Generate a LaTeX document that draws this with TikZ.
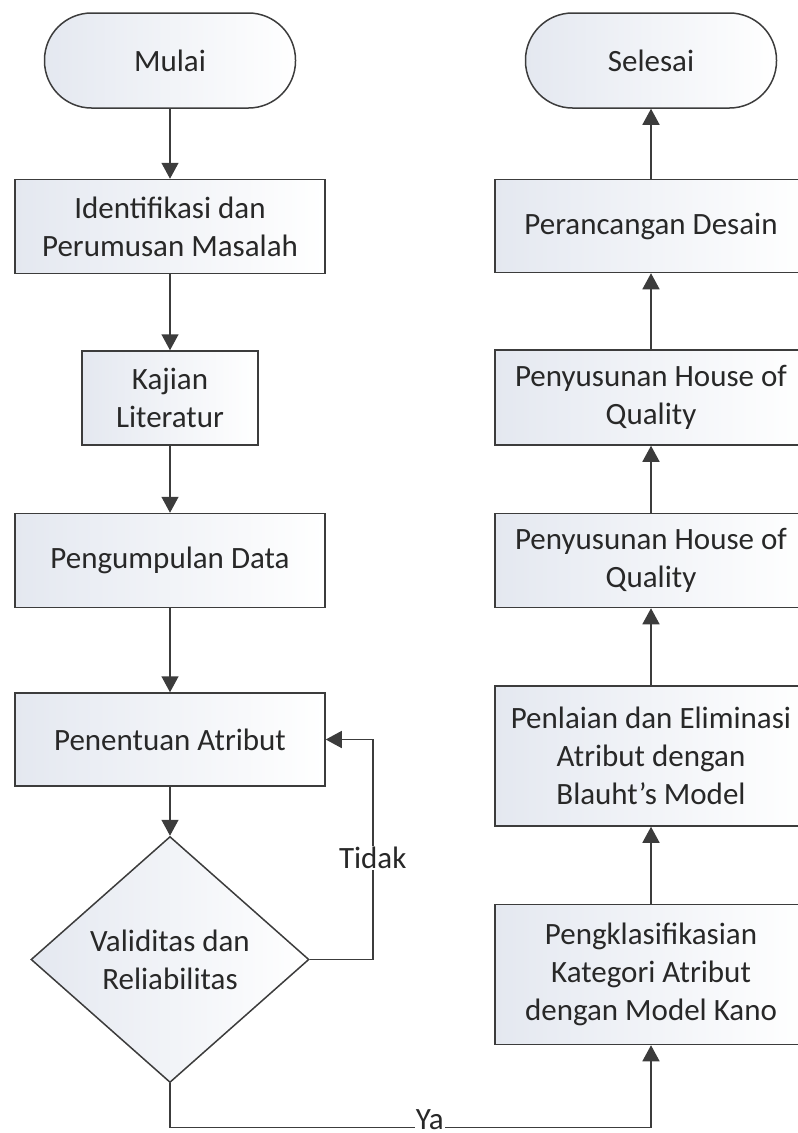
\documentclass[tikz,border=0pt]{standalone}
\usepackage{fontspec}
\setmainfont{Carlito}
\usepackage{tikz}
\usetikzlibrary{shapes.geometric, arrows.meta, positioning}
\definecolor{linegray}{RGB}{60,60,60}
\definecolor{textgray}{RGB}{40,40,40}
\definecolor{boxtint}{RGB}{228,232,240}
\tikzset{
    terminal/.style={rectangle, rounded corners=47pt, draw=linegray, line width=1.5pt, left color=boxtint, right color=white, minimum height=95pt, minimum width=251pt, text=textgray, align=center},
    stepbox/.style={rectangle, draw=linegray, line width=1.5pt, left color=boxtint, right color=white, minimum height=94pt, minimum width=310pt, text=textgray, align=center, inner sep=2pt},
    decision/.style={diamond, draw=linegray, line width=1.5pt, left color=boxtint, right color=white, minimum height=246pt, minimum width=278pt, inner sep=0pt, text=textgray, align=center},
    arrow/.style={-{Triangle[length=16pt, width=17pt]}, draw=linegray, line width=1.5pt},
    answer/.style={fill=white, text=textgray, inner sep=1pt},
}

\begin{document}
\begin{tikzpicture}[font=\fontsize{31}{38}\selectfont]
        \useasboundingbox (0,0) rectangle (798pt,-1133pt);

        % Left column
        \node[terminal] (start) at (170pt,-60.5pt) {Mulai};
        \node[stepbox, below=70pt of start] (ident) {Identifikasi dan\\Perumusan Masalah};
        \node[stepbox, below=76pt of ident, minimum width=176pt] (kajian) {Kajian\\Literatur};
        \node[stepbox, below=67pt of kajian] (kumpul) {Pengumpulan Data};
        \node[stepbox, below=84pt of kumpul, minimum height=93pt] (tentu) {Penentuan Atribut};
        \node[decision, below=49pt of tentu] (valid) {Validitas dan\\Reliabilitas};

        % Right column
        \node[terminal] (finish) at (651pt,-60.5pt) {Selesai};
        \node[stepbox, below=70pt of finish, minimum width=312pt, minimum height=93pt] (desain) {Perancangan Desain};
        \node[stepbox, below=76pt of desain, minimum width=312pt, minimum height=95pt] (hoq1) {Penyusunan House of\\Quality};
        \node[stepbox, below=67pt of hoq1, minimum width=312pt] (hoq2) {Penyusunan House of\\Quality};
        \node[stepbox, below=77pt of hoq2, minimum width=312pt, minimum height=140pt] (nilai) {Penlaian dan Eliminasi\\Atribut dengan\\Blauht’s Model};
        \node[stepbox, below=77pt of nilai, minimum width=312pt, minimum height=140pt] (kano) {Pengklasifikasian\\Kategori Atribut\\dengan Model Kano};

        % Arrows
        \draw[arrow] (start) -- (ident);
        \draw[arrow] (ident) -- (kajian);
        \draw[arrow] (kajian) -- (kumpul);
        \draw[arrow] (kumpul) -- (tentu);
        \draw[arrow] (tentu) -- (valid);
        \draw[arrow] (valid.east) -- ++(63pt,0) |- node[answer, pos=0.23] {Tidak} (tentu.east);
        \draw[arrow] (valid.south) -- ++(0,-44pt) -| node[answer, pos=0.27, yshift=8pt] {Ya} (kano.south);
        \draw[arrow] (kano) -- (nilai);
        \draw[arrow] (nilai) -- (hoq2);
        \draw[arrow] (hoq2) -- (hoq1);
        \draw[arrow] (hoq1) -- (desain);
        \draw[arrow] (desain) -- (finish);
    \end{tikzpicture}
\end{document}
